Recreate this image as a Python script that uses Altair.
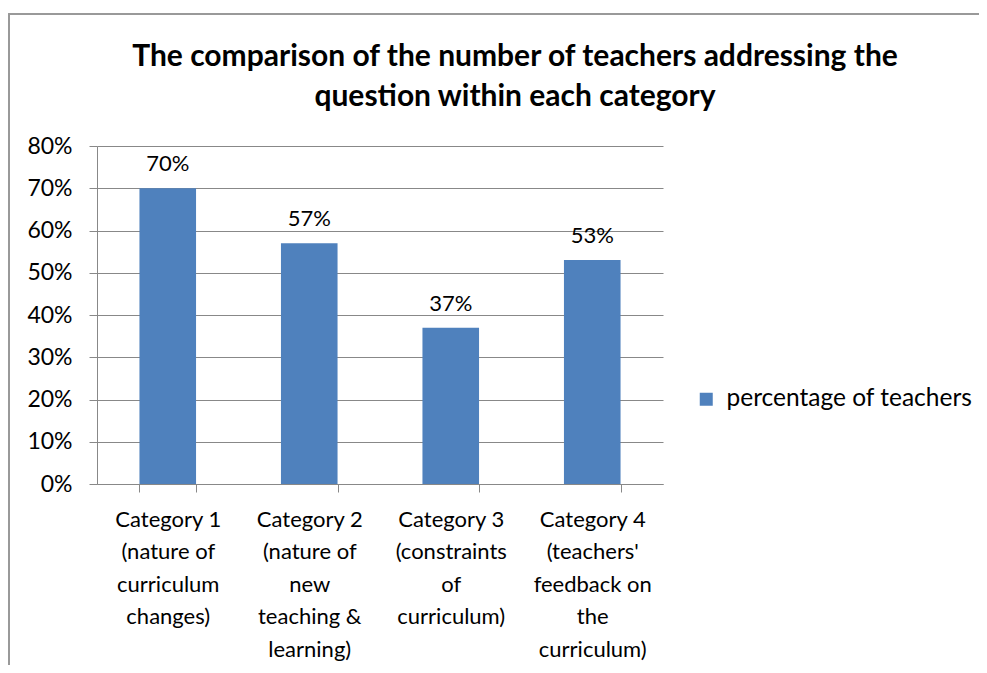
import altair as alt
import pandas as pd

categories = [
    "Category 1|(nature of|curriculum|changes)",
    "Category 2|(nature of|new|teaching &|learning)",
    "Category 3|(constraints|of|curriculum)",
    "Category 4|(teachers'|feedback on|the|curriculum)",
]
values = [0.70, 0.57, 0.37, 0.53]
labels = ["70%", "57%", "37%", "53%"]
series = "percentage of teachers"
y_ticks = [0, 0.1, 0.2, 0.3, 0.4, 0.5, 0.6, 0.7, 0.8]

df = pd.DataFrame({"cat": categories, "val": values, "lab": labels, "series": series})

FONT = "Lato"
W, H = 566, 338
PL, PT = 89, 138
PR = 971 - PL - W
PB = 657 - PT - H

x = alt.X("cat:N", sort=categories, title=None,
          scale=alt.Scale(paddingInner=0.6, paddingOuter=0.3),
          axis=alt.Axis(labelAngle=0, labelExpr="split(datum.label, '|')",
                        labelFontSize=22, labelLineHeight=32.5, labelFont=FONT,
                        labelColor="black", labelPadding=17, labelBaseline="top",
                        tickBand="extent", tickSize=8, tickColor="#888888",
                        domainColor="#888888", labelLimit=200))
y = alt.Y("val:Q", title=None,
          scale=alt.Scale(domain=[0, 0.8], nice=False),
          axis=alt.Axis(values=y_ticks, format=".0%", labelFontSize=23, labelFont=FONT,
                        labelColor="black", tickSize=8, tickColor="#888888",
                        domainColor="#888888", gridColor="#888888", grid=True,
                        labelPadding=17))

bars = alt.Chart(df).mark_bar(color="#4F81BD").encode(
    x=x, y=y,
    color=alt.Color("series:N", scale=alt.Scale(range=["#4F81BD"]),
                    legend=alt.Legend(title=None, orient="none", legendX=597, legendY=241,
                                      symbolType="square", symbolSize=169,
                                      symbolStrokeWidth=0, labelFontSize=24.5,
                                      labelFont=FONT, labelColor="black",
                                      labelLimit=400, padding=0, labelOffset=8)),
)

text = alt.Chart(df).mark_text(fontSize=22, font=FONT, dy=-17, baseline="alphabetic",
                               color="black").encode(
    x=alt.X("cat:N", sort=categories), y="val:Q", text="lab:N")

border = alt.Chart(df).mark_rect(fill=None, stroke="#999999", strokeWidth=1.5).encode(
    x=alt.value(-88), x2=alt.value(1100), y=alt.value(-132), y2=alt.value(700))

chart = alt.layer(border, bars, text).properties(
    width=W, height=H,
    title=alt.TitleParams(
        text=["The comparison of the number of teachers addressing the",
              "question within each category"],
        font=FONT, fontSize=30, fontWeight="bold", color="black",
        anchor="middle", frame="group", dx=135, offset=-99, lineHeight=40,
    ),
    padding={"left": PL, "top": PT, "right": PR, "bottom": PB},
    autosize=alt.AutoSizeParams(type="none"),
).configure_view(stroke=None).configure_axisY(domain=True)

chart.save("out.html", embed_options={"renderer": "svg", "actions": False})
